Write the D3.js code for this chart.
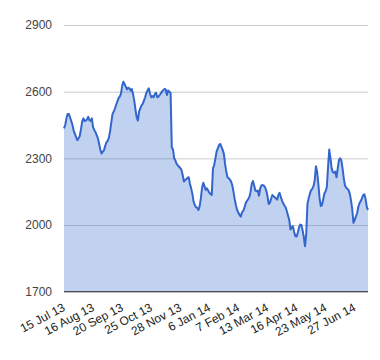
<!DOCTYPE html>
<html>
<head>
<meta charset="utf-8">
<script src="https://cdn.jsdelivr.net/npm/d3@7"></script>
<style>
  body { margin: 0; background: #fff; }
  svg { display: block; font-family: Arial, "Liberation Sans", sans-serif; }
</style>
</head>
<body>
<div id="chart"></div>
<script>
// daily closes, 15 Jul 13 .. early Jul 14
const values = [
  2435, 2450, 2480, 2500, 2500, 2485, 2468, 2450, 2425, 2410,
  2395, 2382, 2390, 2400, 2430, 2465, 2480, 2468, 2470, 2475,
  2487, 2472, 2468, 2480, 2440, 2428, 2418, 2405, 2390, 2365,
  2340, 2322, 2330, 2336, 2355, 2372, 2378, 2392, 2420, 2460,
  2498, 2510, 2523, 2540, 2555, 2570, 2578, 2590, 2625, 2645,
  2635, 2622, 2610, 2618, 2615, 2605, 2612, 2590, 2560, 2520,
  2485, 2470, 2510, 2525, 2538, 2545, 2560, 2575, 2595, 2605,
  2615, 2592, 2575, 2580, 2575, 2590, 2595, 2575, 2578, 2585,
  2592, 2602, 2607, 2612, 2610, 2585, 2605, 2600, 2595, 2350,
  2340, 2300, 2290, 2275, 2268, 2262, 2256, 2248, 2225, 2196,
  2202, 2207, 2212, 2215, 2185, 2165, 2140, 2105, 2090, 2080,
  2077, 2068, 2085, 2120, 2168, 2190, 2175, 2158, 2165, 2155,
  2145, 2140, 2135, 2255, 2270, 2300, 2330, 2345, 2360, 2365,
  2352, 2338, 2320, 2275, 2240, 2215, 2210, 2205, 2195, 2178,
  2148, 2115, 2088, 2067, 2055, 2045, 2038, 2058, 2064, 2078,
  2098, 2108, 2116, 2125, 2148, 2185, 2198, 2178, 2155, 2152,
  2155, 2132, 2165, 2178, 2180, 2177, 2170, 2155, 2130, 2095,
  2100, 2118, 2135, 2130, 2125, 2120, 2114, 2135, 2145, 2127,
  2110, 2098, 2088, 2080, 2062, 2042, 2022, 1980, 1988, 1995,
  1970, 1950, 1948, 1965, 1988, 2002, 2000, 1977, 1945, 1905,
  1960, 2095, 2120, 2140, 2157, 2163, 2175, 2200, 2265, 2240,
  2185, 2122, 2085, 2090, 2115, 2142, 2152, 2170, 2260, 2340,
  2300, 2255, 2238, 2235, 2240, 2215, 2255, 2292, 2300, 2290,
  2255, 2210, 2178, 2168, 2163, 2157, 2140, 2110, 2070, 2010,
  2022, 2038, 2053, 2082, 2098, 2108, 2120, 2135, 2138, 2118,
  2082, 2068
];

// one label every 24 trading days
const tickLabels = ["15 Jul 13", "16 Aug 13", "20 Sep 13", "25 Oct 13", "28 Nov 13",
  "6 Jan 14", "7 Feb 14", "13 Mar 14", "16 Apr 14", "23 May 14", "27 Jun 14"];
const labelStep = 24;
const yTicks = [1700, 2000, 2300, 2600, 2900];

const width = 380, height = 360;
const plotLeft = 64, plotRight = 368, plotTop = 25, plotBottom = 291.7;

const svg = d3.select("#chart").append("svg")
  .attr("width", width).attr("height", height);

const x = d3.scaleLinear().domain([0, values.length - 1]).range([plotLeft, plotRight]);
const y = d3.scaleLinear().domain([1700, 2900]).range([plotBottom, plotTop]);

// gridlines + y labels
const yAxis = svg.append("g")
  .attr("transform", `translate(${plotLeft},0)`)
  .call(d3.axisLeft(y).tickValues(yTicks).tickSize(-(plotRight - plotLeft)).tickPadding(12).tickFormat(d3.format("d")));
yAxis.select(".domain").remove();
yAxis.selectAll("line").attr("stroke", "#ccc");
yAxis.selectAll("text").attr("font-size", "12px").attr("fill", "#444")
  .attr("font-family", "Arial, 'Liberation Sans', sans-serif");

const area = d3.area()
  .x((d, i) => x(i))
  .y0(y(1700))
  .y1(d => y(d));

const line = d3.line()
  .x((d, i) => x(i))
  .y(d => y(d));

svg.append("path").datum(values)
  .attr("d", area)
  .attr("fill", "#3366cc")
  .attr("fill-opacity", 0.3);

svg.append("path").datum(values)
  .attr("d", line)
  .attr("fill", "none")
  .attr("stroke", "#3366cc")
  .attr("stroke-width", 2)
  .attr("stroke-linejoin", "round");

// baseline
svg.append("line")
  .attr("x1", plotLeft).attr("x2", plotRight)
  .attr("y1", y(1700)).attr("y2", y(1700))
  .attr("stroke", "#333").attr("stroke-width", 1);

// slanted x labels
svg.append("g").selectAll("text")
  .data(tickLabels)
  .enter().append("text")
  .attr("transform", (d, i) => `translate(${x(i * labelStep) + 2},310) rotate(-28)`)
  .attr("text-anchor", "end")
  .attr("font-size", "12px")
  .attr("fill", "#222")
  .text(d => d);
</script>
</body>
</html>
